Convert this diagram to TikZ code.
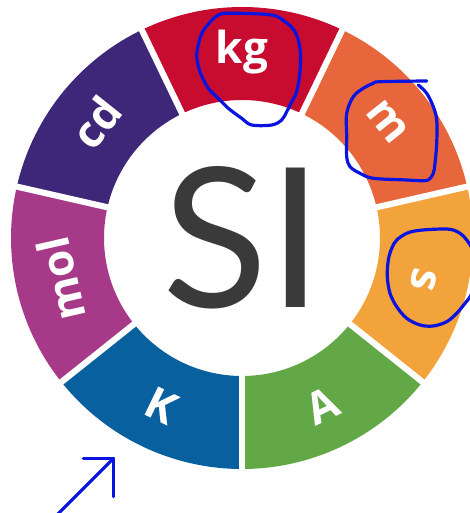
\documentclass[tikz,border=0pt]{standalone}
\usepackage{fontspec}
\setmainfont{Open Sans}
\newfontfamily\sifont{Lato}
\definecolor{colkg}{RGB}{200,12,48}
\definecolor{colm}{RGB}{232,102,60}
\definecolor{cols}{RGB}{243,163,59}
\definecolor{colA}{RGB}{98,168,71}
\definecolor{colK}{RGB}{8,96,158}
\definecolor{colmol}{RGB}{167,57,137}
\definecolor{colcd}{RGB}{62,38,120}
\definecolor{colSI}{RGB}{58,58,58}
\definecolor{pen}{RGB}{10,20,225}
\tikzset{
  lbl/.style={text=white, font=\fontsize{33}{33}\selectfont\bfseries, inner sep=0pt},
  penline/.style={draw=pen, line width=2.4pt, line cap=round, line join=round},
  sepline/.style={draw=white, line width=4.6pt}
}
\begin{document}
\begin{tikzpicture}[x=0.75pt,y=0.75pt]
\useasboundingbox (0,0) rectangle (470,513);
\coordinate (C) at (242,275);
\def\ro{231}
\def\ri{138}
\def\st{51.4286}
% ring sectors
\foreach \i/\col in {0/colA,1/cols,2/colm,3/colkg,4/colcd,5/colmol,6/colK}{
  \pgfmathsetmacro\sa{-90+\i*\st}
  \pgfmathsetmacro\ea{-90+(\i+1)*\st}
  \fill[fill=\col] ([shift={(\sa:\ro)}]C) arc[start angle=\sa, end angle=\ea, radius=\ro]
     -- ([shift={(\ea:\ri)}]C) arc[start angle=\ea, end angle=\sa, radius=\ri] -- cycle;
}
% white separators
\foreach \i in {0,...,6}{
  \pgfmathsetmacro\sa{-90+\i*\st}
  \draw[sepline] ([shift={(\sa:130)}]C) -- ([shift={(\sa:240)}]C);
}
% labels
\node[lbl, rotate=0]      (lkg)  at ([shift={(90:186)}]C) {kg};
\node[lbl, rotate=-51.43] (lm)   at ([shift={(38.57:186)}]C) {m};
\node[lbl, rotate=-102.86](ls)   at ([shift={(-12.86:186)}]C) {s};
\node[lbl, rotate=25.71]  (lA)   at ([shift={(-64.29:186)}]C) {A};
\node[lbl, rotate=-25.71] (lK)   at ([shift={(-115.71:186)}]C) {K};
\node[lbl, rotate=102.86] (lmol) at ([shift={(192.86:186)}]C) {mol};
\node[lbl, rotate=51.43]  (lcd)  at ([shift={(141.43:186)}]C) {cd};
% SI
\node[text=colSI, font=\sifont\fontsize{146}{146}\selectfont, inner sep=0pt, anchor=base] (SI) at (243,205) {SI};
% hand-drawn annotations (pixel coordinates, y downward)
\begin{scope}[yshift=384.75pt, y=-0.75pt]
\draw[penline] plot[smooth cycle, tension=0.55] coordinates {
 (205,28.3) (218.3,15) (235,13.3) (271.7,15) (285,21.7) (295,31.7) (300,48.3)
 (300,71.7) (296.7,91.7) (291.7,101.7) (286.7,111.7) (281.7,120) (271.7,125)
 (251.7,125) (241.7,118.3) (228.3,108.3) (218.3,98.3) (208.3,88.3) (200,71.7)
 (196.7,55) (200,38.3)};
\draw[penline] plot[smooth, tension=0.55] coordinates {
 (426.7,81) (380,81.7) (373.3,83.3) (363.3,88.3) (353.3,96.7) (346.7,113.3)
 (346.7,136.7) (346.7,156.7) (350,166.7) (360,173.3) (373.3,178.3) (406.7,180)
 (420,180.7) (428.3,180) (433.3,173.3) (435,163.3) (436.7,143.3) (436.7,120)
 (433.3,106.7) (426.7,93.3) (418.3,85)};
\draw[penline] plot[smooth cycle, tension=0.55] coordinates {
 (396.7,240) (406.7,233.3) (416.7,230.7) (433.3,229.3) (450,229.3) (460,233.3)
 (466.7,240) (473,252) (476,280) (471,295) (465,303.3) (456.7,313.3) (446.7,321.7)
 (433.3,326) (420,325) (406.7,318.3) (396.7,306.7) (390,293.3) (387.3,276.7)
 (388.3,260) (391.7,248.3)};
\coordinate (tip) at (113.5,458.3);
\coordinate (tail) at (54,518);
\coordinate (hl) at (83.3,458.3);
\coordinate (vb) at (113.5,496.7);
\draw[penline] (tail) -- (tip);
\draw[penline] (hl) -- (tip) -- (vb);
\end{scope}
\end{tikzpicture}
\end{document}
